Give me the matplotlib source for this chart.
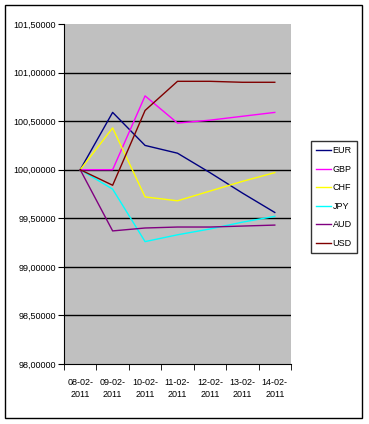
import matplotlib
matplotlib.use("Agg")
import matplotlib.pyplot as plt
from matplotlib.patches import Rectangle

plt.rcParams['font.family'] = ['Liberation Sans', 'DejaVu Sans']

dates = ["08-02-\n2011", "09-02-\n2011", "10-02-\n2011", "11-02-\n2011",
         "12-02-\n2011", "13-02-\n2011", "14-02-\n2011"]
eur = [100.00, 100.59, 100.25, 100.17, 99.97, 99.76, 99.56]
gbp = [100.00, 100.00, 100.76, 100.48, 100.51, 100.55, 100.59]
chf = [100.00, 100.43, 99.72, 99.68, 99.78, 99.88, 99.97]
jpy = [100.00, 99.80, 99.26, 99.33, 99.39, 99.46, 99.52]
aud = [100.00, 99.37, 99.40, 99.41, 99.41, 99.42, 99.43]
usd = [100.00, 99.84, 100.61, 100.91, 100.91, 100.90, 100.90]

series = [("EUR", eur, "#000080"), ("GBP", gbp, "#FF00FF"),
          ("CHF", chf, "#FFFF00"), ("JPY", jpy, "#00FFFF"),
          ("AUD", aud, "#800080"), ("USD", usd, "#800000")]

fig = plt.figure(figsize=(3.69, 4.24), dpi=100)
fig.patches.append(Rectangle((5/369, 6/424), 357/369, 413/424, transform=fig.transFigure,
                             fill=False, edgecolor="black", linewidth=1))
ax = fig.add_axes([64/369, 60/424, 227/369, 340/424])
ax.set_facecolor("#C0C0C0")

x = list(range(len(dates)))
for name, vals, col in series:
    ax.plot(x, vals, color=col, linewidth=1, label=name)

ax.set_xlim(-0.5, 6.5)
ax.set_ylim(98, 101.5)
yt = [98 + 0.5 * i for i in range(8)]
ax.set_yticks(yt)
ax.set_yticklabels([("%.5f" % v).replace(".", ",") for v in yt], fontsize=6.5)
for v in yt[1:-1]:
    ax.axhline(v, color="black", linewidth=1, zorder=1)
ax.set_xticks(x)
ax.set_xticklabels(dates, fontsize=6.5, linespacing=1.5)
ax.tick_params(axis="x", length=0, pad=10)
ax.set_xticks([i - 0.5 for i in range(8)], minor=True)
ax.tick_params(axis="x", which="minor", length=4, direction="out")
ax.tick_params(axis="y", length=4, direction="out", pad=2)
ax.spines["top"].set_visible(False)
ax.spines["right"].set_visible(False)

leg = fig.legend(loc="upper left", bbox_to_anchor=(311/369, 1 - 141/424),
                 fontsize=6.5, frameon=True, fancybox=False, edgecolor="black",
                 handlelength=1.6, handletextpad=0.2, labelspacing=1.05,
                 borderpad=0.6, borderaxespad=0)
leg.get_frame().set_linewidth(1)

fig.savefig("out.png", dpi=100)
